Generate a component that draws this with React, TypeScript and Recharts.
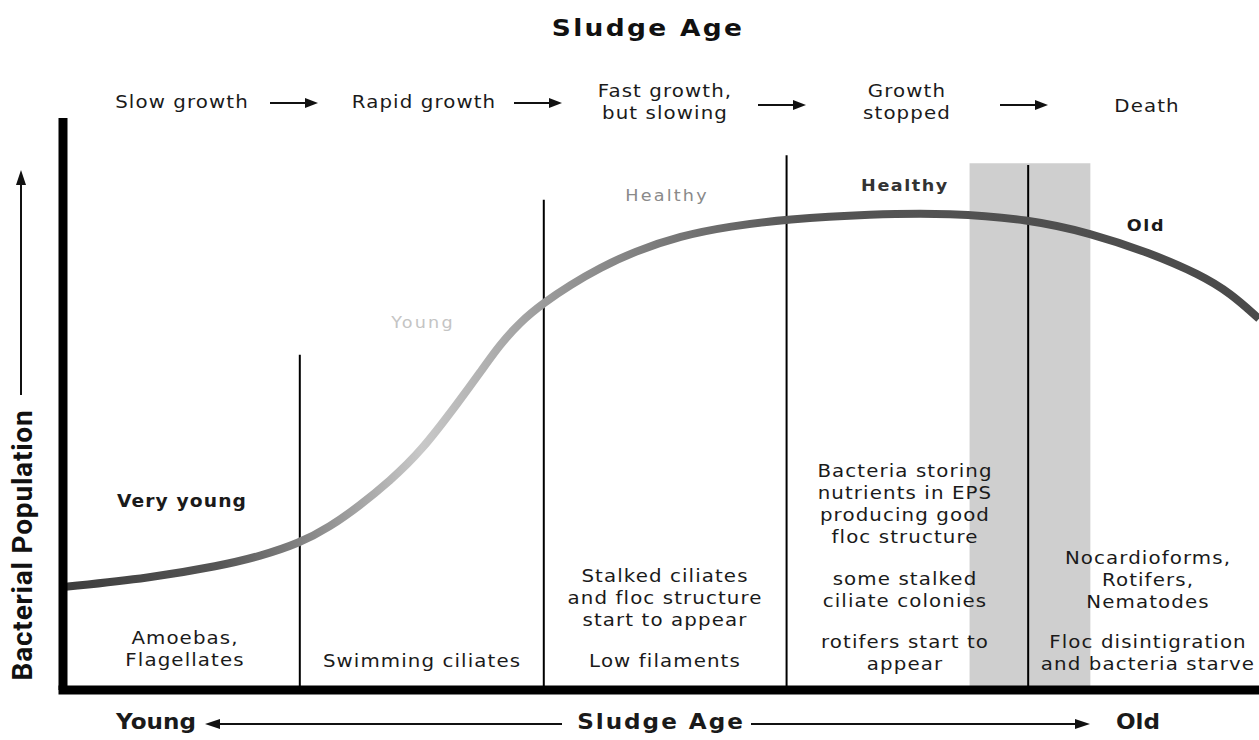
import React from 'react'
import {
  ComposedChart, Line, XAxis, YAxis, ReferenceLine, ReferenceArea,
} from 'recharts'

// sludge age (0-100) vs bacterial population (0-100)
const edades = [0, 7.3, 13.1, 16.5, 19.8, 22.3, 24.8, 27.3, 29.9, 33.2, 34.9, 36.5, 38.2, 40.2, 42.4, 44.9, 47.7, 51.6, 55.8, 60.5, 67.5, 74.2, 80.7, 85.9, 90.9, 95.1, 97.6, 100]
const poblacion = [18.0, 19.6, 21.7, 23.4, 25.7, 28.5, 32.2, 36.5, 41.6, 50.7, 55.6, 60.3, 64.3, 67.7, 70.8, 73.8, 76.6, 79.4, 81.1, 82.3, 83.2, 83.4, 82.3, 79.9, 76.4, 72.6, 69.4, 64.9]

// vertical separators: x position and top
const separadoresX = [19.8, 40.2, 60.5, 80.7]
const separadoresTop = [58.6, 85.7, 93.5, 91.8]

// shaded transition band
const banda = { x1: 75.8, x2: 85.9, top: 92.1 }

const datos = edades.map((a, i) => ({ edad: a, pob: poblacion[i] }))

const FUENTE = '"DejaVu Sans", "Open Sans", sans-serif'
const FUENTE_COND = '"Roboto", "Liberation Sans", sans-serif'

type Txt = { t: string; x: number; y: number; bold?: boolean; color?: string; size?: number; ls?: number }

const encabezados: Txt[] = [
  { t: 'Slow growth', x: 182, y: 102 },
  { t: 'Rapid growth', x: 424, y: 102 },
  { t: 'Fast growth,\nbut slowing', x: 665, y: 102 },
  { t: 'Growth\nstopped', x: 907, y: 102 },
  { t: 'Death', x: 1147, y: 106 },
]

const etiquetasCurva: Txt[] = [
  { t: 'Very young', x: 182, y: 501, bold: true, size: 17, ls: 1 },
  { t: 'Young', x: 423, y: 323, color: '#c4c4c4', size: 16, ls: 2 },
  { t: 'Healthy', x: 667, y: 196, color: '#8a8a8a', size: 16, ls: 2 },
  { t: 'Healthy', x: 905, y: 186, bold: true, color: '#333', size: 16, ls: 1.4 },
  { t: 'Old', x: 1146, y: 226, bold: true, size: 16, ls: 1.5 },
]

const celdas: Txt[] = [
  { t: 'Amoebas,\nFlagellates', x: 185, y: 649 },
  { t: 'Swimming ciliates', x: 422, y: 661 },
  { t: 'Stalked ciliates\nand floc structure\nstart to appear', x: 665, y: 598 },
  { t: 'Low filaments', x: 665, y: 661 },
  { t: 'Bacteria storing\nnutrients in EPS\nproducing good\nfloc structure', x: 905, y: 504 },
  { t: 'some stalked\nciliate colonies', x: 905, y: 590 },
  { t: 'rotifers start to\nappear', x: 905, y: 653 },
  { t: 'Nocardioforms,\nRotifers,\nNematodes', x: 1148, y: 580 },
  { t: 'Floc disintigration\nand bacteria starve', x: 1148, y: 653 },
]

const pie: Txt[] = [
  { t: 'Young', x: 156, y: 722, bold: true, size: 21, ls: 0 },
  { t: 'Sludge Age', x: 661, y: 722, bold: true, size: 21, ls: 1.8 },
  { t: 'Old', x: 1138, y: 722, bold: true, size: 21, ls: 0 },
]

const flechasEncabezado = [[270, 318, 103], [514, 562, 103], [758, 806, 105], [1000, 1048, 105]]

function Texto({ t, x, y, bold, color, size, ls }: Txt) {
  return (
    <div style={{
      position: 'absolute', left: x, top: y, transform: 'translate(-50%, -50%) scaleX(1.1)',
      whiteSpace: 'pre', textAlign: 'center', fontFamily: FUENTE, fontSize: size ?? 18,
      letterSpacing: ls ?? 1, lineHeight: '22px', fontWeight: bold ? 700 : 400, color: color ?? '#1a1a1a',
    }}>{t}</div>
  )
}

export default function App() {
  return (
    <div style={{ position: 'absolute', left: 0, top: 0, width: 1259, height: 740, background: '#fff' }}>
      <ComposedChart
        width={1259} height={740} data={datos}
        margin={{ top: 118, right: 0, bottom: 49, left: 62 }}
      >
        <defs>
          <linearGradient id="gradCurva" x1="0" y1="0" x2="1" y2="0">
            <stop offset="0%" stopColor="#3c3c3c" />
            <stop offset="13%" stopColor="#555" />
            <stop offset="21%" stopColor="#8a8a8a" />
            <stop offset="30%" stopColor="#c8c8c8" />
            <stop offset="40%" stopColor="#9c9c9c" />
            <stop offset="50%" stopColor="#7a7a7a" />
            <stop offset="62%" stopColor="#555" />
            <stop offset="100%" stopColor="#4a4a4a" />
          </linearGradient>
        </defs>
        <XAxis
          type="number" dataKey="edad" domain={[0, 100]} height={1} tick={false} tickLine={false}
          axisLine={{ stroke: '#000', strokeWidth: 9, strokeLinecap: 'square' }}
        />
        <YAxis
          type="number" domain={[0, 100]} width={1} tick={false} tickLine={false}
          axisLine={{ stroke: '#000', strokeWidth: 9 }}
        />
        <ReferenceArea
          x1={banda.x1} x2={banda.x2} y1={0} y2={banda.top}
          fill="#cfcfcf" fillOpacity={1} stroke="none"
        />
        {separadoresX.map((x, i) => (
          <ReferenceLine
            key={`sep-${i}`}
            segment={[{ x, y: 0 }, { x, y: separadoresTop[i] }]}
            stroke="#000" strokeWidth={2}
          />
        ))}
        <Line
          type="basis" dataKey="pob" stroke="url(#gradCurva)" strokeWidth={8}
          dot={false} activeDot={false} isAnimationActive={false}
        />
      </ComposedChart>

      {/* textos y flechas */}
      <div style={{
        position: 'absolute', left: 648, top: 28, transform: 'translate(-50%, -50%) scaleX(1.15)',
        whiteSpace: 'nowrap', fontFamily: FUENTE, fontWeight: 700, fontSize: 23, letterSpacing: 2, color: '#111',
      }}>Sludge Age</div>

      {encabezados.map((d, i) => <Texto key={`h-${i}`} {...d} />)}
      {etiquetasCurva.map((d, i) => <Texto key={`c-${i}`} {...d} />)}
      {celdas.map((d, i) => <Texto key={`b-${i}`} {...d} />)}
      {pie.map((d, i) => <Texto key={`p-${i}`} {...d} />)}

      <div style={{
        position: 'absolute', left: 22, top: 545, transform: 'translate(-50%, -50%) rotate(-90deg)',
        whiteSpace: 'nowrap', fontFamily: FUENTE_COND, fontWeight: 700, fontSize: 28, letterSpacing: 0.8, color: '#111',
      }}>Bacterial Population</div>

      <svg width={1259} height={740} style={{ position: 'absolute', left: 0, top: 0, pointerEvents: 'none' }}>
        {flechasEncabezado.map(([a, b, y], i) => (
          <g key={`fa-${i}`}>
            <line x1={a} y1={y} x2={b - 10} y2={y} stroke="#111" strokeWidth={2} />
            <polygon points={`${b},${y} ${b - 13},${y - 5} ${b - 13},${y + 5}`} fill="#111" />
          </g>
        ))}
        {/* flecha eje y */}
        <line x1={21} y1={395} x2={21} y2={182} stroke="#111" strokeWidth={2} />
        <polygon points="21,170 16,185 26,185" fill="#111" />
        {/* flechas eje x */}
        <line x1={562} y1={724} x2={215} y2={724} stroke="#111" strokeWidth={2} />
        <polygon points="205,724 220,719 220,729" fill="#111" />
        <line x1={751} y1={724} x2={1078} y2={724} stroke="#111" strokeWidth={2} />
        <polygon points="1090,724 1075,719 1075,729" fill="#111" />
      </svg>
    </div>
  )
}
